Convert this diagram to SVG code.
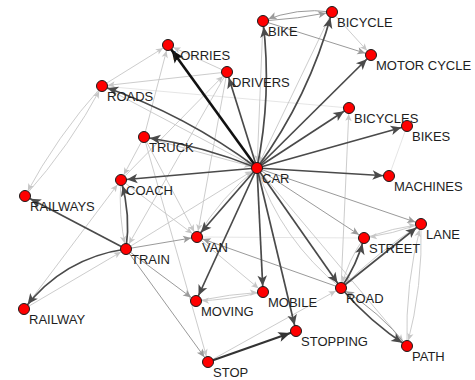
<svg xmlns="http://www.w3.org/2000/svg" width="475" height="380" viewBox="0 0 475 380">
  <style>
    .e { fill: none; }
    .k { stroke: #111; stroke-width: 2.6; marker-end: url(#aK); }
    .s { stroke: #333; stroke-width: 2.2; marker-end: url(#aS); }
    .d { stroke: #4a4a4a; stroke-width: 1.7; marker-end: url(#aD); }
    .m { stroke: #9a9a9a; stroke-width: 1; marker-end: url(#aM); }
    .l { stroke: #c6c6c6; stroke-width: 0.9; marker-end: url(#aL); }
    .x { stroke: #e2e2e2; stroke-width: 0.9; }
    .node circle { fill: #ff0000; stroke: #1a1a1a; stroke-width: 1; }
    .node text { font-family: "Liberation Sans", Arial, sans-serif; font-size: 13px; fill: #1e1e1e; }
  </style>
  <defs>
    <marker id="aK" viewBox="-22 -8 22 16" refX="0" refY="0" markerWidth="22" markerHeight="16" markerUnits="userSpaceOnUse" orient="auto">
      <path d="M-19,-5.5 L-6,0 L-19,5.5 L-16,0 Z" fill="#111"/>
    </marker>
    <marker id="aS" viewBox="-22 -8 22 16" refX="0" refY="0" markerWidth="22" markerHeight="16" markerUnits="userSpaceOnUse" orient="auto">
      <path d="M-18,-5 L-6,0 L-18,5 L-15,0 Z" fill="#333"/>
    </marker>
    <marker id="aD" viewBox="-22 -8 22 16" refX="0" refY="0" markerWidth="22" markerHeight="16" markerUnits="userSpaceOnUse" orient="auto">
      <path d="M-16.5,-4.8 L-6,0 L-16.5,4.8 L-13.8,0 Z" fill="#4a4a4a"/>
    </marker>
    <marker id="aM" viewBox="-22 -8 22 16" refX="0" refY="0" markerWidth="22" markerHeight="16" markerUnits="userSpaceOnUse" orient="auto">
      <path d="M-14,-3.6 L-6,0 L-14,3.6 L-12,0 Z" fill="#9a9a9a"/>
    </marker>
    <marker id="aL" viewBox="-22 -8 22 16" refX="0" refY="0" markerWidth="22" markerHeight="16" markerUnits="userSpaceOnUse" orient="auto">
      <path d="M-13,-3.2 L-6,0 L-13,3.2 L-11.2,0 Z" fill="#c6c6c6"/>
    </marker>
  </defs>

  <g id="connectors" class="e">
    <!-- faint links -->
    <path class="x" d="M102,86 L349,108"/>
    <path class="x" d="M197,237 L364,238"/>
    <path class="x" d="M389,176 L407,126"/>

    <!-- light links -->
    <path class="l" d="M102,86 L168,45"/>
    <path class="l" d="M227,72 L168,45"/>
    <path class="l" d="M227,72 L102,86"/>
    <path class="l" d="M144,137 L168,45"/>
    <path class="l" d="M102,86 Q57,136 25,196"/>
    <path class="l" d="M25,196 Q70,146 102,86"/>
    <path class="l" d="M332,12 L371,55"/>
    <path class="l" d="M263,21 L257,168"/>
    <path class="l" d="M332,12 L257,168"/>
    <path class="l" d="M227,72 L197,237"/>
    <path class="l" d="M144,137 L197,237"/>
    <path class="l" d="M121,180 L197,237"/>
    <path class="l" d="M121,180 Q118,215 126,249"/>
    <path class="l" d="M126,249 L257,168"/>
    <path class="l" d="M24,309 L126,249"/>
    <path class="l" d="M24,309 L121,180"/>
    <path class="l" d="M197,237 Q221,197 257,168"/>
    <path class="l" d="M197,237 L263,292"/>
    <path class="l" d="M196,301 Q230,294 263,292"/>
    <path class="l" d="M263,292 Q229,300 196,301"/>
    <path class="l" d="M208,362 L341,288"/>
    <path class="l" d="M341,288 Q281,240 257,168"/>
    <path class="l" d="M257,168 L407,346"/>
    <path class="l" d="M341,288 L349,108"/>
    <path class="l" d="M364,238 Q393,228 421,224"/>
    <path class="l" d="M421,224 Q392,234 364,238"/>
    <path class="l" d="M364,238 Q348,260 341,288"/>
    <path class="l" d="M421,224 Q378,252 341,288"/>
    <path class="l" d="M421,224 Q423,286 407,346"/>
    <path class="l" d="M407,346 Q405,284 421,224"/>
    <path class="l" d="M144,137 L257,168"/>
    <path class="l" d="M102,86 L257,168"/>
    <path class="l" d="M121,180 L227,72"/>
    <path class="l" d="M227,72 L126,249"/>
    <path class="l" d="M144,137 L121,180"/>
    <path class="l" d="M144,137 L208,362"/>

    <!-- medium links -->
    <path class="m" d="M332,12 Q297,7 263,21"/>
    <path class="m" d="M263,21 Q298,19 332,12"/>
    <path class="m" d="M263,21 L371,55"/>
    <path class="m" d="M126,249 L197,237"/>
    <path class="m" d="M126,249 L196,301"/>
    <path class="m" d="M126,249 L208,362"/>
    <path class="m" d="M341,288 L197,237"/>
    <path class="m" d="M257,168 L364,238"/>
    <path class="m" d="M257,168 L421,224"/>
    <path class="m" d="M407,346 Q380,312 341,288"/>

    <!-- strong links -->
    <path class="d" d="M257,168 Q186,115 102,86"/>
    <path class="d" d="M257,168 L227,72"/>
    <path class="d" d="M257,168 Q272,95 263,21"/>
    <path class="d" d="M257,168 Q309,97 332,12"/>
    <path class="d" d="M257,168 L371,55"/>
    <path class="d" d="M257,168 L349,108"/>
    <path class="d" d="M257,168 L407,126"/>
    <path class="d" d="M257,168 L389,176"/>
    <path class="d" d="M257,168 Q203,146 144,137"/>
    <path class="d" d="M257,168 L121,180"/>
    <path class="d" d="M257,168 L197,237"/>
    <path class="d" d="M257,168 L196,301"/>
    <path class="d" d="M257,168 L263,292"/>
    <path class="d" d="M257,168 L296,331"/>
    <path class="d" d="M257,168 L341,288"/>
    <path class="d" d="M126,249 L25,196"/>
    <path class="d" d="M126,249 Q131,215 121,180"/>
    <path class="d" d="M126,249 Q63,258 24,309"/>
    <path class="d" d="M341,288 Q357,265 364,238"/>
    <path class="d" d="M341,288 L421,224"/>
    <path class="d" d="M341,288 Q370,322 407,346"/>
    <path class="s" d="M208,362 L296,331"/>
    <path class="k" d="M257,168 L168,45"/>
  </g>

  <g id="n-car" class="node"><circle cx="257" cy="168" r="5.5"/><text x="262" y="183">CAR</text></g>
  <g id="n-lorries" class="node"><circle cx="168" cy="45" r="5.5"/><text x="173" y="60">LORRIES</text></g>
  <g id="n-drivers" class="node"><circle cx="227" cy="72" r="5.5"/><text x="232" y="87">DRIVERS</text></g>
  <g id="n-roads" class="node"><circle cx="102" cy="86" r="5.5"/><text x="107" y="101">ROADS</text></g>
  <g id="n-bike" class="node"><circle cx="263" cy="21" r="5.5"/><text x="268" y="36">BIKE</text></g>
  <g id="n-bicycle" class="node"><circle cx="332" cy="12" r="5.5"/><text x="337" y="27">BICYCLE</text></g>
  <g id="n-motorcycle" class="node"><circle cx="371" cy="55" r="5.5"/><text x="376" y="70">MOTOR CYCLE</text></g>
  <g id="n-bicycles" class="node"><circle cx="349" cy="108" r="5.5"/><text x="354" y="123">BICYCLES</text></g>
  <g id="n-bikes" class="node"><circle cx="407" cy="126" r="5.5"/><text x="412" y="141">BIKES</text></g>
  <g id="n-machines" class="node"><circle cx="389" cy="176" r="5.5"/><text x="394" y="191">MACHINES</text></g>
  <g id="n-lane" class="node"><circle cx="421" cy="224" r="5.5"/><text x="426" y="239">LANE</text></g>
  <g id="n-street" class="node"><circle cx="364" cy="238" r="5.5"/><text x="369" y="253">STREET</text></g>
  <g id="n-truck" class="node"><circle cx="144" cy="137" r="5.5"/><text x="149" y="152">TRUCK</text></g>
  <g id="n-coach" class="node"><circle cx="121" cy="180" r="5.5"/><text x="126" y="195">COACH</text></g>
  <g id="n-railways" class="node"><circle cx="25" cy="196" r="5.5"/><text x="30" y="211">RAILWAYS</text></g>
  <g id="n-train" class="node"><circle cx="126" cy="249" r="5.5"/><text x="131" y="264">TRAIN</text></g>
  <g id="n-van" class="node"><circle cx="197" cy="237" r="5.5"/><text x="202" y="252">VAN</text></g>
  <g id="n-railway" class="node"><circle cx="24" cy="309" r="5.5"/><text x="29" y="324">RAILWAY</text></g>
  <g id="n-moving" class="node"><circle cx="196" cy="301" r="5.5"/><text x="201" y="316">MOVING</text></g>
  <g id="n-stop" class="node"><circle cx="208" cy="362" r="5.5"/><text x="213" y="377">STOP</text></g>
  <g id="n-mobile" class="node"><circle cx="263" cy="292" r="5.5"/><text x="268" y="307">MOBILE</text></g>
  <g id="n-road" class="node"><circle cx="341" cy="288" r="5.5"/><text x="346" y="303">ROAD</text></g>
  <g id="n-stopping" class="node"><circle cx="296" cy="331" r="5.5"/><text x="301" y="346">STOPPING</text></g>
  <g id="n-path" class="node"><circle cx="407" cy="346" r="5.5"/><text x="412" y="361">PATH</text></g>
</svg>
